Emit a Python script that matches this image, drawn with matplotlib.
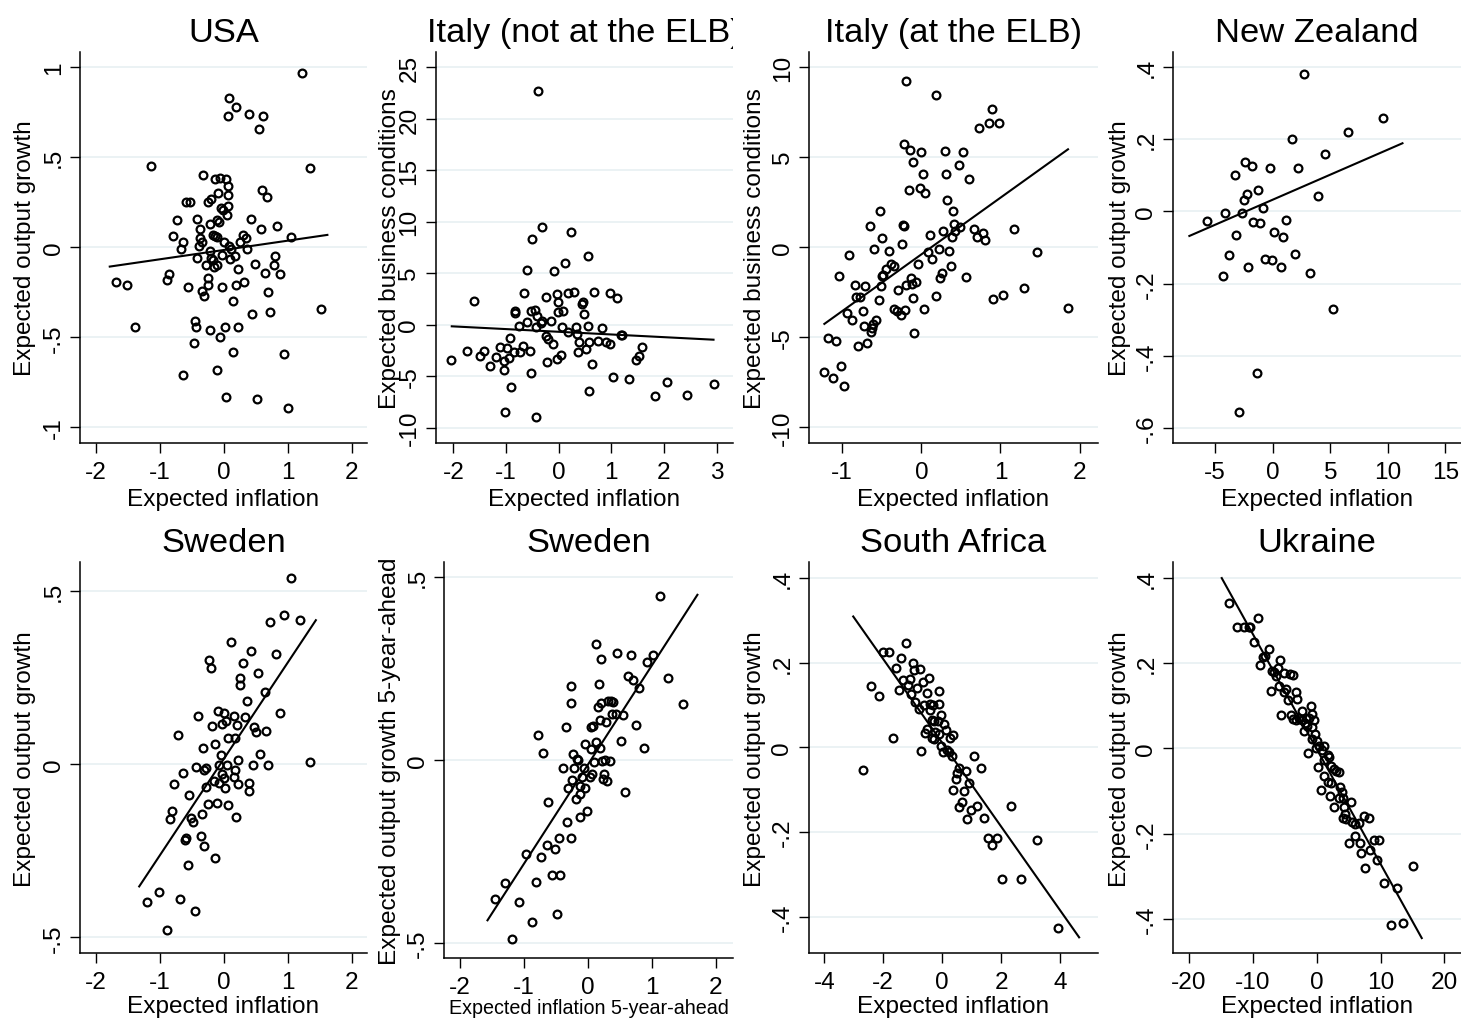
import matplotlib
matplotlib.use("Agg")
import matplotlib.pyplot as plt
from matplotlib.transforms import Bbox, TransformedBbox

plt.rcParams['font.family'] = ['Liberation Sans', 'DejaVu Sans']

# ---------------- data ----------------
usa_x = [1.23, 0.09, 0.19, 0.07, 0.40, 0.62, 0.55, -1.13, 1.35, -0.32,
         -0.13, -0.06, 0.04, 0.06, -0.09, 0.06, 0.60, 0.67, -0.59, -0.53,
         -0.25, -0.20, -0.04, 0.07, -0.01, 0.05, -0.73, -0.42, -0.10, -0.07,
         -0.21, 0.43, 0.58, 0.84, -0.37, -0.17, -0.14, -0.10, -0.79, -0.64,
         -0.37, -0.34, 0.01, 0.30, 0.35, 0.26, 1.05, -0.67, -0.39, 0.09,
         0.11, 0.36, -0.22, -0.03, -0.41, -0.20, -0.17, 0.10, 0.18, 0.80,
         -0.28, -0.15, -0.10, 0.22, 0.49, 0.79, 0.65, 0.88, -0.85, -0.88,
         -1.69, -1.51, -0.55, -0.25, -0.24, -0.02, 0.19, 0.32, -0.34, -0.31,
         0.69, 0.14, 1.52, 0.73, 0.44, -0.45, -0.43, -1.38, -0.21, 0.02,
         0.23, -0.05, -0.47, 0.15, 0.95, -0.11, -0.63, 0.04, 0.52, 1.01]
usa_y = [0.97, 0.83, 0.78, 0.73, 0.74, 0.73, 0.66, 0.45, 0.44, 0.40,
         0.38, 0.385, 0.38, 0.34, 0.30, 0.29, 0.32, 0.28, 0.25, 0.25,
         0.25, 0.27, 0.22, 0.23, 0.21, 0.18, 0.15, 0.16, 0.15, 0.14,
         0.13, 0.16, 0.10, 0.12, 0.10, 0.07, 0.065, 0.06, 0.065, 0.03,
         0.05, 0.03, 0.03, 0.07, 0.05, 0.03, 0.06, -0.01, 0.01, 0.01,
         -0.01, -0.01, -0.02, -0.04, -0.06, -0.06, -0.07, -0.065, -0.05, -0.05,
         -0.10, -0.11, -0.10, -0.12, -0.09, -0.10, -0.14, -0.15, -0.15, -0.18,
         -0.19, -0.21, -0.22, -0.17, -0.21, -0.22, -0.21, -0.19, -0.24, -0.27,
         -0.25, -0.30, -0.34, -0.36, -0.37, -0.41, -0.44, -0.44, -0.46, -0.44,
         -0.44, -0.50, -0.53, -0.58, -0.59, -0.68, -0.71, -0.83, -0.84, -0.89]
usa_fit_x = [-1.78, 1.62]
usa_fit_y = [-0.107, 0.069]

itn_x = [-0.39, -0.31, 0.23, -0.51, 0.56, 0.12, -0.61, -0.09, -1.61, -0.65,
         -0.25, -0.04, -0.02, 0.17, 0.29, 0.67, 0.98, 1.10, 0.47, 0.45,
         -0.83, -0.82, -0.53, -0.45, -0.02, 0.09, 0.48, -0.41, -0.61, -0.32,
         -0.34, -0.15, -0.75, -0.44, 0.06, 0.32, 0.55, 0.17, 0.35, 0.83,
         -0.24, -0.20, 1.18, 1.20, -0.93, 0.39, 0.58, -0.11, 0.75, 0.89,
         0.97, -1.12, -0.99, -0.68, -1.74, -1.41, -0.85, -0.73, -0.55, 0.51,
         0.36, 1.58, -1.49, -1.19, -0.94, -1.03, 0.05, -0.03, 1.52, 1.46,
         -2.04, -1.31, -1.03, -0.22, 0.63, -0.53, 1.04, 1.34, 2.05, 2.94,
         -0.91, 0.57, 1.83, 2.43, -1.01, -0.44]
itn_y = [22.7, 9.45, 8.96, 8.34, 6.69, 6.04, 5.32, 5.26, 2.34, 3.12,
         2.73, 2.95, 2.18, 3.12, 3.21, 3.15, 3.12, 2.63, 2.18, 2.01,
         1.30, 1.14, 1.30, 1.46, 1.20, 1.36, 1.01, 0.88, 0.23, 0.39,
         0.16, 0.36, -0.16, -0.26, -0.26, -0.26, -0.13, -0.68, -0.91, -0.36,
         -1.07, -1.40, -1.01, -0.97, -1.33, -1.66, -1.66, -1.88, -1.56, -1.66,
         -1.88, -2.18, -2.27, -2.08, -2.56, -2.56, -2.69, -2.69, -2.56, -2.34,
         -2.66, -2.14, -3.02, -3.18, -3.28, -3.54, -2.92, -3.38, -3.02, -3.41,
         -3.44, -4.03, -4.38, -3.67, -3.80, -4.68, -5.13, -5.26, -5.62, -5.78,
         -6.01, -6.43, -6.92, -6.82, -8.44, -8.96]
itn_fit_x = [-2.03, 2.94]
itn_fit_y = [-0.16, -1.46]

ite_x = [-0.19, 0.19, 0.89, 0.98, 0.86, 0.73, -0.22, -0.14, 0.00, 0.30,
         0.53, -0.10, 0.47, 0.02, 0.31, 0.60, -0.15, -0.02, 0.05, 0.33,
         -0.52, 0.40, -0.65, -0.23, -0.22, 0.41, 0.28, 0.49, 0.43, 0.67,
         0.78, 1.17, -0.50, 0.11, 0.39, 0.70, 0.80, -0.24, -0.60, -0.41,
         0.08, 0.22, 0.35, 1.46, -0.91, 0.14, -0.38, -0.35, -0.45, -0.04,
         0.37, -0.48, -0.50, 0.26, 0.24, 0.56, -1.04, -0.84, -0.71, -0.51,
         -0.13, -0.19, -0.12, -0.07, 1.30, -0.83, -0.78, -0.29, -0.54, -0.11,
         0.18, 0.91, 1.03, -0.74, -0.34, -0.31, -0.26, -0.20, 0.03, 1.85,
         -0.94, -0.88, -0.57, -0.61, -0.72, -0.62, -0.64, -0.09, -1.18, -1.08,
         -0.80, -0.68, -1.01, -1.23, -1.12, -0.98]
ite_y = [9.22, 8.43, 7.67, 6.89, 6.89, 6.61, 5.70, 5.37, 5.26, 5.33,
         5.30, 4.70, 4.57, 4.07, 4.06, 3.78, 3.15, 3.28, 2.98, 2.59,
         2.02, 1.98, 1.19, 1.22, 1.20, 1.26, 0.87, 1.09, 0.87, 1.02,
         0.81, 1.00, 0.50, 0.70, 0.59, 0.57, 0.39, 0.15, -0.09, -0.22,
         -0.28, -0.13, -0.19, -0.26, -0.44, -0.67, -0.96, -1.04, -1.20, -0.96,
         -1.06, -1.54, -1.59, -1.46, -1.69, -1.65, -1.61, -2.09, -2.13, -2.17,
         -1.69, -2.09, -2.02, -1.94, -2.24, -2.78, -2.78, -2.37, -2.91, -2.80,
         -2.69, -2.87, -2.67, -3.52, -3.46, -3.56, -3.74, -3.48, -3.41, -3.37,
         -3.67, -4.04, -4.06, -4.26, -4.39, -4.50, -4.69, -4.74, -5.07, -5.20,
         -5.48, -5.33, -6.61, -6.91, -7.28, -7.72]
ite_fit_x = [-1.225, 1.853]
ite_fit_y = [-4.26, 5.43]

nz_x = [2.72, 9.62, 6.58, 1.68, 4.58, -2.38, -1.83, -0.26, 2.17, -3.28,
        -1.28, -2.23, -2.46, 3.94, -0.81, -4.14, -2.70, -5.71, -1.71, -1.10,
        1.19, 0.14, 0.90, -3.16, -3.77, 1.91, -0.67, -0.09, -2.14, 0.70,
        3.22, -4.29, 5.25, -1.39, -2.90]
nz_y = [0.381, 0.260, 0.219, 0.202, 0.159, 0.136, 0.126, 0.121, 0.120, 0.100,
        0.060, 0.048, 0.031, 0.043, 0.009, -0.005, -0.003, -0.026, -0.028, -0.031,
        -0.023, -0.056, -0.072, -0.066, -0.122, -0.118, -0.132, -0.135, -0.154, -0.154,
        -0.170, -0.180, -0.270, -0.449, -0.555]
nz_fit_x = [-7.25, 11.28]
nz_fit_y = [-0.068, 0.189]

swe_x = [1.05, 0.94, 0.73, 1.19, 0.12, 0.43, 0.81, -0.23, -0.20, 0.30,
         0.53, 0.26, 0.25, 0.65, 0.37, -0.09, 0.00, -0.40, 0.16, 0.33,
         0.88, 0.03, -0.03, -0.18, 0.21, 0.47, 0.51, 0.66, -0.72, 0.07,
         0.17, -0.14, -0.33, -0.04, 0.57, 0.23, 1.35, -0.07, 0.05, 0.46,
         0.70, -0.44, -0.27, -0.30, 0.17, -0.64, -0.02, 0.16, -0.15, -0.08,
         0.01, -0.77, -0.28, 0.22, 0.40, 0.02, 0.39, -0.54, -0.25, -0.11,
         0.07, -0.81, -0.84, -0.34, -0.51, -0.48, 0.19, -0.35, -0.59, -0.61,
         -0.30, -0.13, -0.56, -1.01, -1.20, -0.68, -0.45, -0.89]
swe_y = [0.537, 0.430, 0.409, 0.415, 0.353, 0.327, 0.317, 0.299, 0.278, 0.292,
         0.263, 0.248, 0.229, 0.209, 0.182, 0.152, 0.146, 0.140, 0.139, 0.136,
         0.146, 0.123, 0.116, 0.110, 0.113, 0.108, 0.093, 0.095, 0.085, 0.076,
         0.076, 0.058, 0.047, 0.027, 0.029, 0.012, 0.005, -0.002, -0.002, -0.002,
         -0.002, -0.008, -0.011, -0.018, -0.017, -0.026, -0.029, -0.038, -0.048, -0.055,
         -0.041, -0.058, -0.065, -0.057, -0.055, -0.070, -0.077, -0.089, -0.115, -0.111,
         -0.118, -0.135, -0.158, -0.143, -0.157, -0.168, -0.152, -0.207, -0.213, -0.218,
         -0.236, -0.272, -0.291, -0.370, -0.397, -0.389, -0.425, -0.478]
swe_fit_x = [-1.32, 1.44]
swe_fit_y = [-0.353, 0.415]

swe5_x = [1.13, 0.13, 0.46, 0.67, 1.01, 0.92, 0.20, 0.63, 0.71, 1.25,
          -0.27, 0.17, 0.79, -0.27, 0.20, 0.32, 0.36, 0.39, 0.15, 1.48,
          0.37, 0.44, 0.55, 0.19, 0.28, -0.35, 0.05, 0.08, 0.75, -0.78,
          -0.05, 0.13, 0.04, 0.19, 0.51, 0.87, -0.70, -0.23, -0.17, -0.15,
          0.10, 0.22, 0.27, 0.34, -0.39, -0.22, -0.06, 0.06, 0.25, -0.09,
          0.03, -0.25, 0.23, 0.29, -0.31, -0.12, -0.05, 0.58, -0.13, -0.18,
          -0.63, -0.01, -0.13, -0.32, -0.46, -0.27, -0.64, -0.52, -0.97, -0.74,
          -0.56, -0.44, -1.30, -0.81, -1.46, -1.08, -0.48, -0.88, -1.19]
swe5_y = [0.449, 0.316, 0.294, 0.287, 0.286, 0.269, 0.275, 0.230, 0.219, 0.224,
          0.203, 0.208, 0.196, 0.155, 0.155, 0.161, 0.160, 0.158, 0.144, 0.152,
          0.125, 0.127, 0.123, 0.109, 0.103, 0.091, 0.089, 0.093, 0.095, 0.069,
          0.044, 0.049, 0.031, 0.032, 0.052, 0.034, 0.019, 0.015, 0.003, 0.000,
          -0.005, -0.003, 0.001, -0.002, -0.023, -0.023, -0.023, -0.038, -0.038, -0.047,
          -0.048, -0.055, -0.053, -0.059, -0.078, -0.070, -0.076, -0.088, -0.093, -0.107,
          -0.115, -0.141, -0.157, -0.171, -0.214, -0.215, -0.232, -0.244, -0.258, -0.265,
          -0.314, -0.314, -0.336, -0.333, -0.382, -0.388, -0.423, -0.444, -0.490]
swe5_fit_x = [-1.57, 1.71]
swe5_fit_y = [-0.439, 0.452]

sa_x = [-1.24, -2.01, -1.80, -1.40, -1.01, -1.56, -0.97, -0.74, -0.46, -1.33,
        -1.09, -0.65, -2.41, -1.47, -1.16, -0.86, -0.11, -2.15, -1.06, -0.52,
        -0.92, -0.61, -0.41, -0.32, -0.11, -0.79, -0.43, -0.05, -0.34, -0.27,
        -0.15, 0.07, -0.51, 0.14, -0.60, -0.24, -0.10, 0.36, -0.34, -0.27,
        0.27, -1.66, -0.06, 0.02, 0.16, 0.24, -0.71, 0.34, 1.06, 0.55,
        1.31, -2.70, 0.50, 0.80, 0.45, 0.92, 0.38, 0.73, 0.67, 0.56,
        1.17, 2.34, 0.97, 0.85, 1.42, 1.54, 1.84, 1.68, 3.22, 2.03,
        2.68, 3.94]
sa_y = [0.247, 0.224, 0.224, 0.211, 0.199, 0.187, 0.183, 0.184, 0.163, 0.158,
        0.162, 0.154, 0.144, 0.136, 0.146, 0.139, 0.132, 0.122, 0.125, 0.128,
        0.108, 0.099, 0.102, 0.099, 0.102, 0.090, 0.087, 0.077, 0.064, 0.062,
        0.062, 0.054, 0.043, 0.040, 0.033, 0.035, 0.031, 0.030, 0.023, 0.020,
        0.023, 0.023, 0.002, -0.010, -0.006, -0.010, -0.009, -0.020, -0.020, -0.049,
        -0.048, -0.054, -0.061, -0.057, -0.075, -0.084, -0.100, -0.104, -0.130, -0.140,
        -0.139, -0.139, -0.148, -0.169, -0.168, -0.214, -0.214, -0.232, -0.219, -0.312,
        -0.311, -0.426]
sa_fit_x = [-3.02, 4.64]
sa_fit_y = [0.309, -0.449]

ukr_x = [-13.79, -9.24, -12.43, -11.38, -10.65, -10.44, -9.87, -7.52, -8.09, -8.36,
         -5.69, -8.88, -6.11, -7.05, -6.68, -5.07, -4.18, -3.71, -6.42, -7.21,
         -5.85, -4.80, -3.19, -5.12, -4.54, -3.03, -5.64, -4.02, -0.94, -0.78,
         -2.35, -3.71, -3.24, -2.77, -2.25, -1.72, -1.25, -0.37, -1.83, -1.46,
         -1.98, -0.68, -0.26, -0.78, 0.10, -1.31, -0.05, 0.42, 0.78, 1.20,
         1.72, 1.98, 1.15, 2.19, 0.26, 2.66, 3.08, 3.45, 1.10, 1.83,
         2.30, 3.66, 0.68, 3.97, 2.04, 3.50, 4.18, 5.33, 2.72, 4.28,
         4.44, 4.13, 4.60, 5.48, 6.01, 6.68, 7.36, 8.15, 5.95, 5.12,
         6.74, 8.93, 9.71, 6.95, 8.41, 9.45, 7.57, 15.14, 10.50, 12.58, 11.64, 13.58]
ukr_y = [0.341, 0.305, 0.284, 0.284, 0.284, 0.284, 0.248, 0.232, 0.217, 0.213,
         0.207, 0.195, 0.189, 0.180, 0.178, 0.176, 0.173, 0.172, 0.170, 0.135,
         0.145, 0.139, 0.132, 0.131, 0.114, 0.115, 0.079, 0.079, 0.098, 0.080,
         0.088, 0.069, 0.066, 0.070, 0.066, 0.070, 0.071, 0.067, 0.059, 0.053,
         0.041, 0.051, 0.034, 0.022, 0.018, -0.012, 0.001, 0.006, -0.003, 0.005,
         -0.016, -0.020, -0.027, -0.041, -0.045, -0.048, -0.053, -0.056, -0.066, -0.080,
         -0.081, -0.091, -0.098, -0.103, -0.113, -0.117, -0.117, -0.127, -0.137, -0.137,
         -0.154, -0.164, -0.167, -0.173, -0.178, -0.176, -0.159, -0.164, -0.206, -0.223,
         -0.223, -0.214, -0.214, -0.246, -0.239, -0.263, -0.281, -0.275, -0.317, -0.328, -0.415, -0.410]
ukr_fit_x = [-14.88, 16.45]
ukr_fit_y = [0.399, -0.445]

titles = ["USA", "Italy (not at the ELB)", "Italy (at the ELB)", "New Zealand",
          "Sweden", "Sweden", "South Africa", "Ukraine"]
xlabels = ["Expected inflation"] * 5 + ["Expected inflation 5-year-ahead",
                                         "Expected inflation", "Expected inflation"]
ylabels = ["Expected output growth", "Expected business conditions",
           "Expected business conditions", "Expected output growth",
           "Expected output growth", "Expected output growth 5-year-ahead",
           "Expected output growth", "Expected output growth"]
xticks_list = [[-2, -1, 0, 1, 2], [-2, -1, 0, 1, 2, 3], [-1, 0, 1, 2], [-5, 0, 5, 10, 15],
               [-2, -1, 0, 1, 2], [-2, -1, 0, 1, 2], [-4, -2, 0, 2, 4], [-20, -10, 0, 10, 20]]
yticks_list = [[-1, -0.5, 0, 0.5, 1], [-10, -5, 0, 5, 10, 15, 20, 25], [-10, -5, 0, 5, 10],
               [-0.6, -0.4, -0.2, 0, 0.2, 0.4], [-0.5, 0, 0.5], [-0.5, 0, 0.5],
               [-0.4, -0.2, 0, 0.2, 0.4], [-0.4, -0.2, 0, 0.2, 0.4]]

# ---------------- layout (pixels of a 1461x1020 canvas) ----------------
W, H = 1461, 1020
boxes = [(80, 53, 367, 444), (435.7, 53, 733, 444), (809, 53, 1098, 444), (1172.7, 53, 1461, 444),
         (80, 563.3, 367, 954), (444.3, 563.3, 733, 959.3), (808.7, 563.3, 1098, 954),
         (1172.7, 563.3, 1461, 954)]
xlims = [(-2.245, 2.239), (-2.335, 3.31), (-1.419, 2.232), (-8.70, 16.37),
         (-2.245, 2.239), (-2.245, 2.266), (-4.53, 5.28), (-22.56, 22.6)]
ylims = [(-1.087, 1.085), (-11.5, 26.5), (-10.87, 10.83), (-0.642, 0.442),
         (-0.545, 0.582), (-0.543, 0.541), (-0.486, 0.437), (-0.480, 0.436)]
ylabel_cx = [25, 390, 755, 1120, 25, 390, 755, 1120]
title_base = [41.7] * 4 + [551.7] * 4
xlabel_base = [506.0] * 4 + [1013.0, 1014.5, 1013.0, 1013.0]
xlabel_size = [17.6] * 5 + [14.2, 17.6, 17.6]
title_clip = [None, 733, None, None, None, None, None, None]

GRID = '#E6EFF1'

fig = plt.figure(figsize=(W / 100, H / 100), dpi=100)
fig.patch.set_facecolor('white')


def fxp(px):
    return px / W


def fyp(py):
    return 1 - py / H


def stata_fmt(v):
    if abs(v - round(v)) < 1e-9:
        return str(int(round(v)))
    s = f"{v:g}"
    return s.replace("0.", ".", 1)


datasets = [(usa_x, usa_y, usa_fit_x, usa_fit_y), (itn_x, itn_y, itn_fit_x, itn_fit_y),
            (ite_x, ite_y, ite_fit_x, ite_fit_y), (nz_x, nz_y, nz_fit_x, nz_fit_y),
            (swe_x, swe_y, swe_fit_x, swe_fit_y), (swe5_x, swe5_y, swe5_fit_x, swe5_fit_y),
            (sa_x, sa_y, sa_fit_x, sa_fit_y), (ukr_x, ukr_y, ukr_fit_x, ukr_fit_y)]

for i, (x, y, fx_, fy_) in enumerate(datasets):
    l, t, r, b = boxes[i]
    ax = fig.add_axes([fxp(l), fyp(b), (r - l) / W, (b - t) / H])
    ax.set_xlim(xlims[i])
    ax.set_ylim(ylims[i])
    for v in yticks_list[i]:
        ax.axhline(v, color=GRID, lw=1.1, zorder=0)
    ax.plot(x, y, linestyle='none', marker='o', ms=5.6, mfc='none', mec='black',
            mew=1.6, zorder=3)
    ax.plot(fx_, fy_, color='black', lw=1.5, zorder=4)
    for s in ['top', 'right']:
        ax.spines[s].set_visible(False)
    for s in ['left', 'bottom']:
        ax.spines[s].set_linewidth(1.1)
        ax.spines[s].set_color('black')
    ax.set_xticks(xticks_list[i])
    ax.set_xticklabels([stata_fmt(v) for v in xticks_list[i]])
    ax.set_yticks(yticks_list[i])
    ax.set_yticklabels([stata_fmt(v) for v in yticks_list[i]], rotation=90, va='center')
    ax.tick_params(direction='out', length=7, width=1.0, labelsize=17.6, color='black')
    ax.tick_params(axis='x', pad=6.0)
    ax.tick_params(axis='y', pad=4.0)
    ax.set_facecolor('white')

    tt = fig.text(fxp((l + r) / 2), fyp(title_base[i]), titles[i], ha='center',
                  va='baseline', fontsize=24.8)
    if title_clip[i] is not None:
        tt.set_clip_box(TransformedBbox(Bbox.from_extents(0, 0, fxp(title_clip[i]), 1),
                                        fig.transFigure))
        tt.set_clip_on(True)
    fig.text(fxp((l + r) / 2), fyp(xlabel_base[i]), xlabels[i], ha='center',
             va='baseline', fontsize=xlabel_size[i])
    fig.text(fxp(ylabel_cx[i]), fyp((t + b) / 2), ylabels[i], ha='center', va='center',
             rotation=90, fontsize=17.6)

fig.savefig('out.png', dpi=100, facecolor='white')
